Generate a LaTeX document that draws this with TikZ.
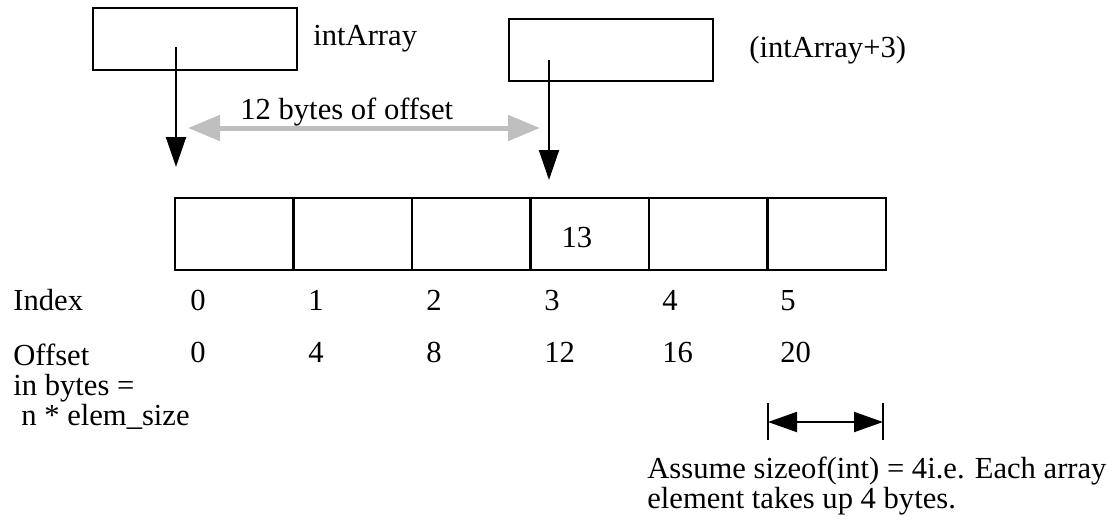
\documentclass[tikz,border=0pt]{standalone}
\usepackage{fontspec}
\setmainfont{Liberation Serif}
\usetikzlibrary{arrows.meta}
\tikzset{
	membox/.style={draw,line width=1pt,inner sep=0pt,minimum width=102pt,minimum height=31pt},
	cellbox/.style={draw,line width=1.2pt,inner sep=0pt,minimum width=59.25pt,minimum height=36pt,font=\fontsize{15.3}{15}\selectfont},
	txt/.style={anchor=base west,inner sep=0pt,font=\fontsize{15.3}{15}\selectfont},
	ptr/.style={line width=1pt,-{Triangle[length=15pt,width=10pt]}},
	span/.style={line width=2.5pt,black!25,{Triangle[length=16pt,width=12.5pt]}-{Triangle[length=16pt,width=12.5pt]}},
	dim/.style={line width=1pt,{Triangle[length=14.5pt,width=10pt]}-{Triangle[length=14.5pt,width=10pt]}}
}
\begin{document}
\begin{tikzpicture}[x=0.5pt,y=-0.5pt]
	\useasboundingbox (0,0) rectangle (1116,521);
	\node[membox] (ptrA) at (195,39) {};
	\node[membox] (ptrB) at (611,50) {};
	\node[txt] (nameA) at (313,45) {intArray};
	\node[txt] (nameB) at (749,57) {(intArray+3)};
	\foreach \i in {0,...,5}
		\node[cellbox] (cell\i) at (234.25+118.5*\i,234) {};
	\node[txt,anchor=base] (val3) at ([xshift=-6.4pt,yshift=-6.5pt]cell3.center) {13};
	\coordinate (A0) at (176,47);
	\coordinate (A1) at (176,167);
	\coordinate (B0) at (549,60);
	\coordinate (B1) at (549,180);
	\draw[ptr] (A0) -- (A1);
	\draw[ptr] (B0) -- (B1);
	\coordinate (S0) at (188,128);
	\coordinate (S1) at (540,128);
	\draw[span] (S0) -- (S1);
	\node[txt] (spanlbl) at (240,119) {12 bytes of offset};
	\node[txt] (idxlbl) at (13,310) {Index};
	\foreach \i in {0,...,5}
		\node[txt] (idx\i) at (190+118*\i,310) {\i};
	\foreach \o [count=\i from 0] in {0,4,8,12,16,20}
		\node[txt] (off\i) at (190+118*\i,362) {\o};
	\node[anchor=north west,inner sep=0pt,align=left,font=\fontsize{15.3}{15}\selectfont] (offlbl) at (13,344)
		{Offset\\in bytes =\\\hspace*{4pt}n * elem\_size};
	\coordinate (D0) at (768,422);
	\coordinate (D1) at (883,422);
	\draw[line width=1pt] ([yshift=9.5pt]D0) -- ([yshift=-9pt]D0);
	\draw[line width=1pt] ([yshift=9.5pt]D1) -- ([yshift=-9pt]D1);
	\draw[dim] (D0) -- (D1);
	\node[anchor=north west,inner sep=0pt,align=left,font=\fontsize{15.3}{12.5}\selectfont] (note) at (647,457)
		{Assume sizeof(int) = 4i.e. Each array\\element takes up 4 bytes.};
\end{tikzpicture}
\end{document}
